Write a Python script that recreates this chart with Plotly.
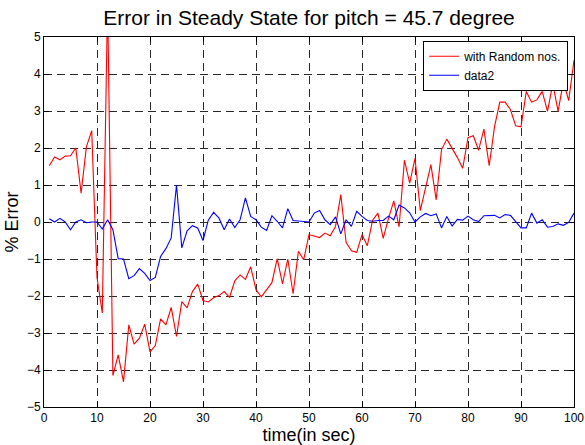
import plotly.graph_objects as go

time_s = list(range(1, 101))

red_random = [
    1.52, 1.76, 1.68, 1.78, 1.79, 2.00, 0.78, 2.03, 2.47, -1.50,
    -2.46, 6.00, -4.15, -3.59, -4.32, -2.78, -3.30, -3.14, -2.76, -3.51,
    -3.34, -2.62, -2.78, -2.31, -3.09, -2.15, -2.32, -1.88, -1.68, -2.12,
    -2.16, -2.05, -1.99, -1.88, -2.04, -1.59, -1.43, -1.55, -1.21, -1.83,
    -2.02, -1.83, -1.64, -0.99, -1.67, -1.00, -1.94, -0.79, -1.02, -0.34,
    -0.39, -0.42, -0.30, -0.37, -0.12, 0.74, -0.55, -0.78, -0.82, -0.34,
    -0.64, 0.05, 0.24, -0.44, 0.10, 0.57, -0.13, 1.67, 1.05, 1.72,
    0.31, 0.90, 1.55, 0.60, 1.95, 2.24, 2.00, 1.74, 1.45, 2.28,
    2.33, 1.94, 2.51, 1.52, 2.57, 3.24, 3.24, 3.04, 2.60, 2.57,
    3.53, 3.24, 3.30, 3.53, 2.99, 3.74, 2.99, 3.80, 3.28, 4.37,
]

blue_data2 = [
    0.09, 0.00, 0.10, 0.00, -0.21, 0.00, 0.06, -0.02, 0.00, 0.00,
    -0.19, 0.06, -0.21, -0.99, -1.00, -1.53, -1.45, -1.26, -1.39, -1.58,
    -1.50, -0.93, -0.72, -0.43, 1.00, -0.70, -0.24, -0.10, -0.16, -0.50,
    0.05, 0.26, 0.11, -0.21, 0.08, -0.15, 0.06, 0.65, 0.15, 0.06,
    -0.14, -0.23, 0.17, 0.02, -0.16, 0.36, 0.04, 0.02, 0.01, 0.00,
    0.24, 0.31, 0.06, -0.07, 0.14, -0.32, 0.06, -0.12, 0.29, 0.15,
    0.04, 0.02, 0.04, 0.04, 0.16, 0.06, 0.46, 0.38, 0.25, 0.00,
    0.14, 0.23, 0.17, 0.22, -0.16, 0.15, -0.11, 0.07, 0.05, 0.16,
    0.06, 0.01, 0.17, 0.18, 0.18, 0.11, 0.20, 0.18, 0.02, -0.16,
    -0.16, 0.24, -0.03, 0.06, -0.14, -0.12, -0.05, -0.09, -0.01, 0.24,
]

x_ticks = list(range(0, 101, 10))
y_ticks = list(range(-5, 6))

FONT = "Liberation Sans, Arial, Helvetica, sans-serif"

fig = go.Figure()
fig.add_trace(go.Scatter(x=time_s, y=red_random, mode="lines",
                         name="with Random nos.",
                         line=dict(color="#ff0000", width=1.1)))
fig.add_trace(go.Scatter(x=time_s, y=blue_data2, mode="lines",
                         name="data2",
                         line=dict(color="#0000ff", width=1.1)))

axis_common = dict(
    showline=True, linecolor="black", linewidth=1, mirror="allticks",
    ticks="inside", ticklen=5, tickcolor="black", tickwidth=1,
    showgrid=True, gridcolor="rgb(40,40,40)", gridwidth=1, griddash="8px,5px",
    zeroline=False, tickfont=dict(family=FONT, size=12, color="black"),
    automargin=False,
)

fig.update_xaxes(range=[0, 100], tickvals=x_ticks,
                 title=dict(text="time(in sec)", font=dict(family=FONT, size=18, color="black"), standoff=0),
                 **axis_common)
fig.update_yaxes(range=[-5, 5], tickvals=y_ticks,
                 title=dict(text="% Error", font=dict(family=FONT, size=18, color="black"), standoff=3),
                 **axis_common)

fig.update_layout(
    width=585, height=445,
    margin=dict(l=44, r=11, t=37, b=38),
    paper_bgcolor="white", plot_bgcolor="white",
    title=dict(text="Error in Steady State for pitch = 45.7 degree",
               font=dict(family=FONT, size=21, color="black"),
               x=309 / 585, xanchor="center",
               y=1 - 18 / 445, yanchor="middle"),
    showlegend=True,
    legend=dict(x=0.989, y=0.99, xanchor="right", yanchor="top",
                bgcolor="white", bordercolor="black", borderwidth=1,
                font=dict(family=FONT, size=12, color="black"),
                tracegroupgap=0, itemwidth=30),
    font=dict(family=FONT),
)

fig.write_html("out.html",
               config={"displayModeBar": False},
               post_script="document.body.style.margin='0';document.body.style.overflow='hidden';")
